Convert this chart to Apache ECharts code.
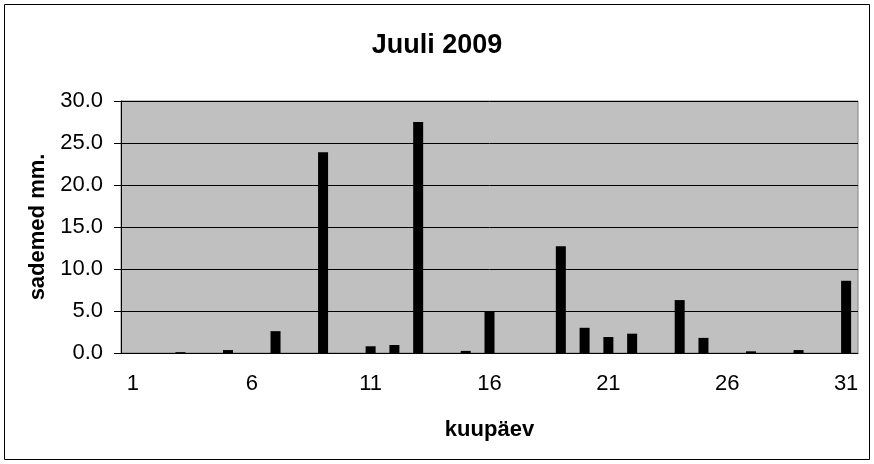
<!DOCTYPE html>
<html><head><meta charset="utf-8">
<script src="https://cdn.jsdelivr.net/npm/echarts@6/dist/echarts.min.js"></script>
<style>html,body{margin:0;padding:0;background:#fff}#c{width:874px;height:464px}</style>
</head><body><div id="c"></div>
<script>
const days = Array.from({length:31},(_,i)=>String(i+1));
const precip = [0,0,0.1,0,0.35,0,2.6,0,23.9,0,0.8,0.95,27.5,0,0.25,5.0,0,0,12.7,3.0,1.9,2.3,0,6.3,1.8,0,0.2,0,0.35,0,8.6];
const titleText = 'Juuli 2009';
const yName = 'sademed mm.';
const xName = 'kuupäev';
const chart = echarts.init(document.getElementById('c'));
chart.setOption({
  animation:false,
  textStyle:{fontFamily:'Liberation Sans, Arial'},
  title:{text:titleText,left:'center',top:27,textStyle:{fontSize:27,fontWeight:'bold',color:'#000',fontFamily:'Liberation Sans, Arial'}},
  graphic:[{type:'rect',shape:{x:4.5,y:4.5,width:865,height:455},style:{fill:'none',stroke:'#000',lineWidth:1},silent:true}],
  grid:{left:121,right:16,top:101,bottom:111,show:true,backgroundColor:'#c0c0c0',borderColor:'#808080',borderWidth:1},
  xAxis:{type:'category',data:days,boundaryGap:true,
    name:xName,nameLocation:'middle',nameGap:66,nameTextStyle:{fontSize:22,fontWeight:'bold',color:'#000'},
    axisLine:{lineStyle:{color:'#000'}},
    axisTick:{interval:0,length:7,lineStyle:{color:'#000'}},
    axisLabel:{interval:4,fontSize:22,color:'#000',margin:20}},
  yAxis:{type:'value',min:0,max:30,interval:5,
    name:yName,nameLocation:'middle',nameGap:68,nameTextStyle:{fontSize:22,fontWeight:'bold',color:'#000'},
    axisLine:{show:true,lineStyle:{color:'#000'}},
    axisTick:{show:true,length:7,lineStyle:{color:'#000'}},
    splitLine:{lineStyle:{color:'#000',width:1}},
    axisLabel:{fontSize:22,color:'#000',margin:18,formatter:v=>v.toFixed(1)}},
  series:[{type:'bar',data:precip,barWidth:10,itemStyle:{color:'#000'}}]
});
</script></body></html>
